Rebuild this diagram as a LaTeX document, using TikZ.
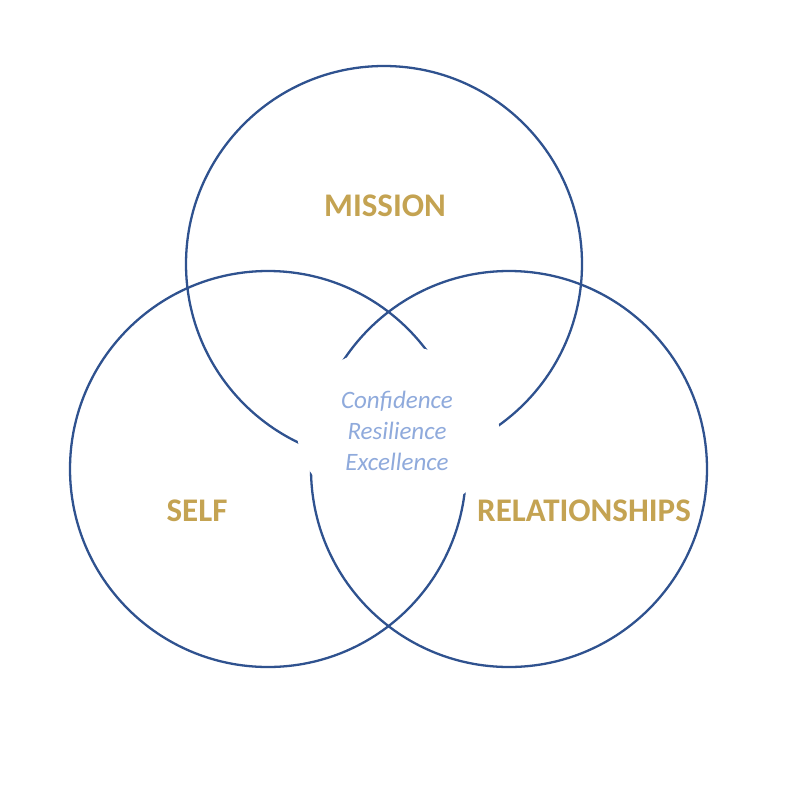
\documentclass[tikz,border=0pt]{standalone}
\usepackage{fontspec}
\setmainfont{Carlito}
\definecolor{ring}{RGB}{47,82,143}
\definecolor{gold}{RGB}{196,163,82}
\definecolor{soft}{RGB}{143,170,220}
\begin{document}
\begin{tikzpicture}[x=1pt,y=-1pt,
  ringstyle/.style={draw=ring,line width=2.3pt},
  label/.style={text=gold,font=\fontsize{33}{36}\selectfont\bfseries,anchor=base},
  core/.style={text=soft,font=\fontsize{25}{31}\selectfont\itshape,align=center}]
\useasboundingbox (0,0) rectangle (805,792);
\coordinate (cm) at (384,264);
\coordinate (cs) at (268,469);
\coordinate (cr) at (509,469);
\draw[ringstyle] (cm) circle (198);
\draw[ringstyle] (cs) circle (198);
\draw[ringstyle] (cr) circle (198);
\fill[white] (398,430) ellipse (101 and 84);
\node[label] (mission) at (385,216) {MISSION};
\node[label] (self) at (197,521) {SELF};
\node[label] (rel) at (584,521) {RELATIONSHIPS};
\node[core] (center) at (397,431) {Confidence\\Resilience\\Excellence};
\end{tikzpicture}
\end{document}
